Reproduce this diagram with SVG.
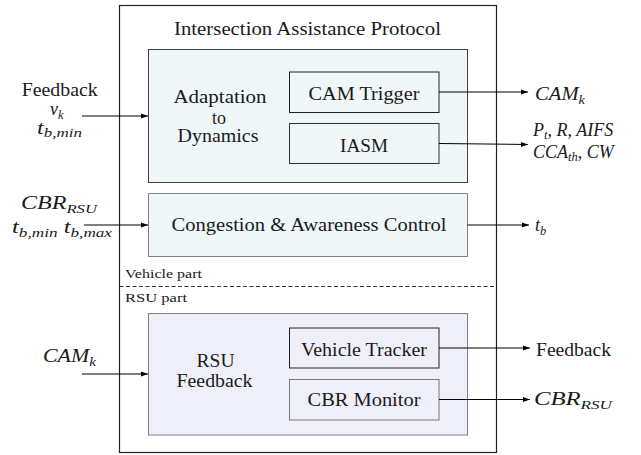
<svg xmlns="http://www.w3.org/2000/svg" width="641" height="455" viewBox="0 0 641 455" font-family="'Liberation Serif', 'DejaVu Serif', serif">
<style>
text{fill:#1a1a1a}
.t{font-size:18px}
.c{text-anchor:middle}
.m{font-style:italic}
.sub{font-size:12.5px}
.small{font-size:13px}
.ln{stroke:#000;stroke-width:1.1;fill:none}
</style>
<defs>
<marker id="ah" markerUnits="userSpaceOnUse" markerWidth="8" markerHeight="6" refX="7" refY="3" orient="auto">
<path d="M0,0.5 L7,3 L0,5.5 Z" fill="#000"/>
</marker>
</defs>
<rect width="641" height="455" fill="#fff"/>
<g id="outer">
<rect x="119.5" y="5.5" width="377" height="447" fill="#fff" stroke="#222" stroke-width="1.2"/>
<text class="t c" x="307.5" y="35" textLength="267" lengthAdjust="spacingAndGlyphs" font-family="Liberation Serif">Intersection Assistance Protocol</text>
<line x1="119.5" y1="286.5" x2="496.5" y2="286.5" stroke="#333" stroke-width="1" stroke-dasharray="4,2.5"/>
<text class="small" x="125" y="277.5" textLength="77" lengthAdjust="spacingAndGlyphs" font-family="Liberation Serif">Vehicle part</text>
<text class="small" x="125" y="302" textLength="62" lengthAdjust="spacingAndGlyphs" font-family="Liberation Serif">RSU part</text>
</g>
<g id="adaptation" font-family="Liberation Serif">
<rect x="148.5" y="49.5" width="319" height="133" fill="#eff7f8" stroke="#444" stroke-width="1"/>
<text class="t c" x="220" y="102.5" textLength="93" lengthAdjust="spacingAndGlyphs">Adaptation</text>
<text class="t c" x="219" y="123.5">to</text>
<text class="t c" x="218" y="142" textLength="81" lengthAdjust="spacingAndGlyphs">Dynamics</text>
</g>
<g id="cam-trigger" font-family="Liberation Serif">
<rect x="289.5" y="72" width="149.5" height="40.5" fill="#eff7f8" stroke="#222" stroke-width="1"/>
<text class="t c" x="364" y="100" textLength="111" lengthAdjust="spacingAndGlyphs">CAM Trigger</text>
</g>
<g id="iasm" font-family="Liberation Serif">
<rect x="289.5" y="123.5" width="149.5" height="40" fill="#eff7f8" stroke="#333" stroke-width="1"/>
<text class="t c" x="364" y="151.5" textLength="48" lengthAdjust="spacingAndGlyphs">IASM</text>
</g>
<g id="congestion" font-family="Liberation Serif">
<rect x="148.5" y="193.5" width="319" height="63" fill="#eff7f8" stroke="#808080" stroke-width="1"/>
<text class="t c" x="309" y="231" textLength="275" lengthAdjust="spacingAndGlyphs">Congestion &amp; Awareness Control</text>
</g>
<g id="rsu-feedback" font-family="Liberation Serif">
<rect x="148.5" y="313.5" width="319" height="121.5" fill="#efeff9" stroke="#808080" stroke-width="1"/>
<text class="t c" x="215.5" y="367" textLength="38" lengthAdjust="spacingAndGlyphs">RSU</text>
<text class="t c" x="214.5" y="386.5" textLength="76" lengthAdjust="spacingAndGlyphs">Feedback</text>
</g>
<g id="vehicle-tracker" font-family="Liberation Serif">
<rect x="289.5" y="328" width="149.5" height="40" fill="#efeff9" stroke="#222" stroke-width="1"/>
<text class="t c" x="364" y="356" textLength="126" lengthAdjust="spacingAndGlyphs">Vehicle Tracker</text>
</g>
<g id="cbr-monitor" font-family="Liberation Serif">
<rect x="289.5" y="379.5" width="149.5" height="40.5" fill="#efeff9" stroke="#777" stroke-width="1"/>
<text class="t c" x="364" y="406" textLength="113" lengthAdjust="spacingAndGlyphs">CBR Monitor</text>
</g>
<g id="labels" font-family="Liberation Serif">
<text class="t c" x="59.7" y="95.5" textLength="76" lengthAdjust="spacingAndGlyphs">Feedback</text>
<text class="t m" x="50" y="115">v<tspan class="sub" dy="3.5">k</tspan></text>
<text class="t m" x="37" y="133.5" textLength="45" lengthAdjust="spacingAndGlyphs">t<tspan class="sub" dy="3.5">b,min</tspan></text>
<text class="t m" x="21" y="208.5" textLength="76" lengthAdjust="spacingAndGlyphs">CBR<tspan class="sub" dy="4">RSU</tspan></text>
<text class="t m" x="12" y="233" textLength="100" lengthAdjust="spacingAndGlyphs">t<tspan class="sub" dy="3.5">b,min</tspan><tspan dy="-3.5"> t</tspan><tspan class="sub" dy="3.5">b,max</tspan></text>
<text class="t m" x="43" y="361.5" textLength="53" lengthAdjust="spacingAndGlyphs">CAM<tspan class="sub" dy="4">k</tspan></text>
<text class="t m" x="535" y="100" textLength="50" lengthAdjust="spacingAndGlyphs">CAM<tspan class="sub" dy="4">k</tspan></text>
<text class="t m" x="533" y="136">P<tspan class="sub" dy="3">t</tspan><tspan dy="-3">, R, AIFS</tspan></text>
<text class="t m" x="533" y="158">CCA<tspan class="sub" dy="3">th</tspan><tspan dy="-3">, CW</tspan></text>
<text class="t m" x="535" y="231">t<tspan class="sub" dy="4">b</tspan></text>
<text class="t" x="536" y="356" textLength="75" lengthAdjust="spacingAndGlyphs">Feedback</text>
<text class="t m" x="534" y="405" textLength="78" lengthAdjust="spacingAndGlyphs">CBR<tspan class="sub" dy="4">RSU</tspan></text>
</g>
<g id="connectors">
<line class="ln" x1="82" y1="116" x2="148" y2="116" marker-end="url(#ah)"/>
<line class="ln" x1="84" y1="225" x2="148" y2="225" marker-end="url(#ah)"/>
<line class="ln" x1="82" y1="374" x2="148" y2="374" marker-end="url(#ah)"/>
<line class="ln" x1="439" y1="92" x2="528" y2="92" marker-end="url(#ah)"/>
<line class="ln" x1="439" y1="143.5" x2="528" y2="144.5" marker-end="url(#ah)"/>
<line class="ln" x1="467.5" y1="225" x2="529" y2="225" marker-end="url(#ah)"/>
<line class="ln" x1="439" y1="348" x2="530" y2="348" marker-end="url(#ah)"/>
<line class="ln" x1="439" y1="399.5" x2="530" y2="399.5" marker-end="url(#ah)"/>
</g>
</svg>
